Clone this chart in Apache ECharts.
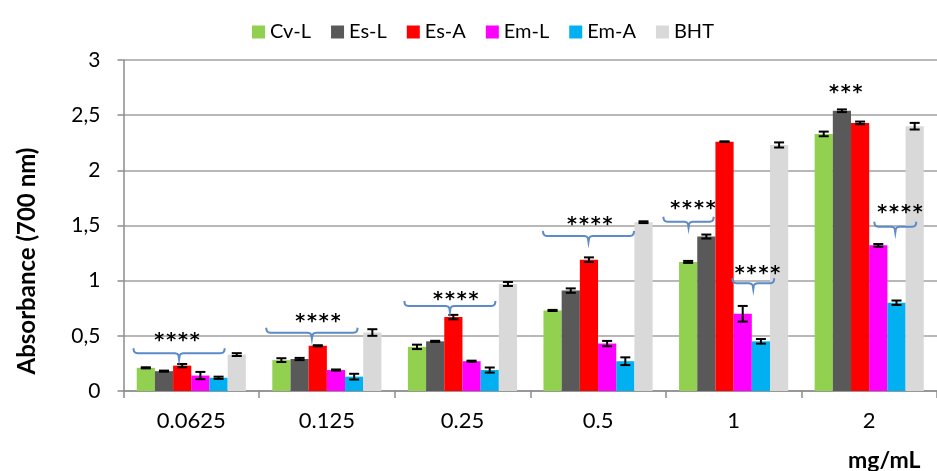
<!DOCTYPE html>
<html>
<head>
<meta charset="utf-8">
<title>Absorbance (700 nm)</title>
<script src="https://cdn.jsdelivr.net/npm/echarts@6/dist/echarts.min.js"></script>
<style>
  html, body { margin: 0; padding: 0; background: #fff; }
  #chart { width: 937px; height: 471px; }
</style>
</head>
<body>
<div id="chart"></div>
<script>
// Concentrations on the x axis
const categories = ['0.0625', '0.125', '0.25', '0.5', '1', '2'];
const seriesNames = ['Cv-L', 'Es-L', 'Es-A', 'Em-L', 'Em-A', 'BHT'];
const yTicks = [0, 0.5, 1, 1.5, 2, 2.5, 3];

// Mean absorbance per extract
const cvL = [0.21, 0.28, 0.40, 0.73, 1.17, 2.33];
const esL = [0.18, 0.29, 0.45, 0.91, 1.40, 2.54];
const esA = [0.23, 0.41, 0.67, 1.19, 2.26, 2.43];
const emL = [0.14, 0.19, 0.27, 0.43, 0.70, 1.32];
const emA = [0.12, 0.13, 0.19, 0.27, 0.45, 0.80];
const bht = [0.33, 0.53, 0.97, 1.53, 2.23, 2.40];

// Standard deviations
const cvLErr = [0.005, 0.017, 0.020, 0.005, 0.009, 0.021];
const esLErr = [0.005, 0.010, 0.005, 0.020, 0.018, 0.012];
const esAErr = [0.015, 0.005, 0.020, 0.021, 0.003, 0.012];
const emLErr = [0.033, 0.005, 0.005, 0.024, 0.071, 0.012];
const emAErr = [0.010, 0.026, 0.023, 0.035, 0.021, 0.020];
const bhtErr = [0.013, 0.030, 0.018, 0.008, 0.023, 0.030];

// Significance braces: [category, start (band units from centre), end, level]
const braces = [
  [0, -0.427, 0.247, 0.342],
  [1, -0.448, 0.227, 0.528],
  [2, -0.429, 0.244, 0.770],
  [3, -0.407, 0.266, 1.405],
  [4, -0.519, -0.146, 1.534],
  [4, -0.010, 0.300, 0.976],
  [5, 0.037, 0.348, 1.489]
];
// Significance marks: [category, offset (band units), level, text]
const starMarks = [
  [0, -0.105, 0.455, '****'],
  [1, -0.066, 0.625, '****'],
  [2, -0.049, 0.825, '****'],
  [3, -0.061, 1.500, '****'],
  [4, -0.300, 1.650, '****'],
  [4, 0.176, 1.063, '****'],
  [5, 0.227, 1.613, '****'],
  [5, -0.173, 2.700, '***']
];

const values = [cvL, esL, esA, emL, emA, bht];
const errors = [cvLErr, esLErr, esAErr, emLErr, emAErr, bhtErr];
const colors = ['#92d050', '#595959', '#ff0000', '#ff00ff', '#00b0f0', '#d9d9d9'];

const CAT_GAP = 0.195;
const FONT = 'Lato';

const barSeries = seriesNames.map((name, s) => ({
  name: name,
  type: 'bar',
  data: values[s],
  barGap: '0%',
  barCategoryGap: (CAT_GAP * 100) + '%',
  itemStyle: { color: colors[s] },
  emphasis: { disabled: true },
  z: 2
}));

const errorData = [];
values.forEach((vals, s) => {
  vals.forEach((v, c) => {
    errorData.push([c, s, v - errors[s][c], v + errors[s][c]]);
  });
});

const errorSeries = {
  type: 'custom',
  name: 'errors',
  data: errorData,
  encode: { x: 0, y: [2, 3] },
  z: 5,
  silent: true,
  renderItem: function (params, api) {
    const c = api.value(0), s = api.value(1);
    const lo = api.coord([c, api.value(2)]);
    const hi = api.coord([c, api.value(3)]);
    const band = api.size([1, 0])[0];
    const barW = band * (1 - CAT_GAP) / seriesNames.length;
    const x = lo[0] + (s - (seriesNames.length - 1) / 2) * barW;
    const cap = 5;
    const style = { stroke: '#000', lineWidth: 2 };
    return {
      type: 'group',
      children: [
        { type: 'line', shape: { x1: x, y1: lo[1], x2: x, y2: hi[1] }, style: style },
        { type: 'line', shape: { x1: x - cap, y1: lo[1], x2: x + cap, y2: lo[1] }, style: style },
        { type: 'line', shape: { x1: x - cap, y1: hi[1], x2: x + cap, y2: hi[1] }, style: style }
      ]
    };
  }
};

const braceSeries = {
  type: 'custom',
  name: 'braces',
  data: braces,
  encode: { x: 0, y: 3 },
  z: 6,
  silent: true,
  renderItem: function (params, api) {
    const c = api.value(0);
    const p = api.coord([c, api.value(3)]);
    const band = api.size([1, 0])[0];
    const x0 = p[0] + api.value(1) * band;
    const x1 = p[0] + api.value(2) * band;
    const xm = (x0 + x1) / 2;
    const y = p[1];
    const up = 5, down = 6, r = 4;
    const pts = [
      [x0, y - up], [x0 + 0.6, y - 2], [x0 + 1.8, y - 0.6], [x0 + r, y],
      [xm - r, y], [xm - 1.8, y + 0.6], [xm - 0.6, y + 2], [xm, y + down],
      [xm + 0.6, y + 2], [xm + 1.8, y + 0.6], [xm + r, y],
      [x1 - r, y], [x1 - 1.8, y - 0.6], [x1 - 0.6, y - 2], [x1, y - up]
    ];
    return {
      type: 'polyline',
      shape: { points: pts },
      style: { stroke: '#5b8bc8', lineWidth: 2, fill: null }
    };
  }
};

const starSeries = {
  type: 'custom',
  name: 'stars',
  data: starMarks,
  encode: { x: 0, y: 2 },
  z: 7,
  silent: true,
  renderItem: function (params, api) {
    const c = api.value(0);
    const p = api.coord([c, api.value(2)]);
    const band = api.size([1, 0])[0];
    const txt = starMarks[params.dataIndex][3].split('').join('\u200a');
    return {
      type: 'text',
      x: p[0] + api.value(1) * band,
      y: p[1],
      style: {
        text: txt,
        fontFamily: 'DejaVu Sans',
        fontWeight: 'bold',
        fontSize: 19,
        fill: '#000',
        align: 'center',
        verticalAlign: 'middle'
      }
    };
  }
};

const chart = echarts.init(document.getElementById('chart'), null, { renderer: 'canvas' });
chart.setOption({
  animation: false,
  backgroundColor: '#fff',
  textStyle: { fontFamily: FONT },
  title: {
    text: 'mg/mL',
    left: 848,
    top: 449,
    padding: 0,
    textStyle: { fontFamily: FONT, fontSize: 23, fontWeight: 'bold', color: '#000' }
  },
  legend: {
    data: seriesNames,
    top: 17,
    left: 247,
    itemWidth: 13,
    itemHeight: 13,
    itemGap: 20,
    icon: 'rect',
    textStyle: { fontFamily: FONT, fontSize: 20, color: '#000' },
    selectedMode: false
  },
  // Axis title sits a little below the middle of the value axis
  graphic: [{
    type: 'text',
    x: 27,
    y: 261,
    rotation: Math.PI / 2,
    silent: true,
    style: {
      text: 'Absorbance (700 nm)',
      fontFamily: FONT,
      fontSize: 24,
      fontWeight: 'bold',
      fill: '#000',
      align: 'center',
      verticalAlign: 'middle'
    }
  }],
  grid: { left: 123.5, right: -10, top: 60, bottom: 80 },
  xAxis: {
    type: 'category',
    data: categories,
    axisLine: { lineStyle: { color: '#8c8c8c', width: 1.5 } },
    axisTick: { show: true, alignWithLabel: false, length: 7, lineStyle: { color: '#8c8c8c', width: 1.5 } },
    axisLabel: { fontFamily: FONT, fontSize: 22, color: '#000', margin: 19 }
  },
  yAxis: {
    type: 'value',
    min: yTicks[0],
    max: yTicks[yTicks.length - 1],
    interval: yTicks[1] - yTicks[0],
    axisLine: { show: true, lineStyle: { color: '#8c8c8c', width: 1.5 } },
    axisTick: { show: true, inside: false, length: 6, lineStyle: { color: '#8c8c8c', width: 1.5 } },
    splitLine: { show: true, lineStyle: { color: '#a0a0a0', width: 1.5 } },
    axisLabel: {
      fontFamily: FONT,
      fontSize: 21,
      color: '#000',
      margin: 23,
      formatter: v => String(v).replace('.', ',')
    }
  },
  series: barSeries.concat([errorSeries, braceSeries, starSeries])
});
</script>
</body>
</html>
